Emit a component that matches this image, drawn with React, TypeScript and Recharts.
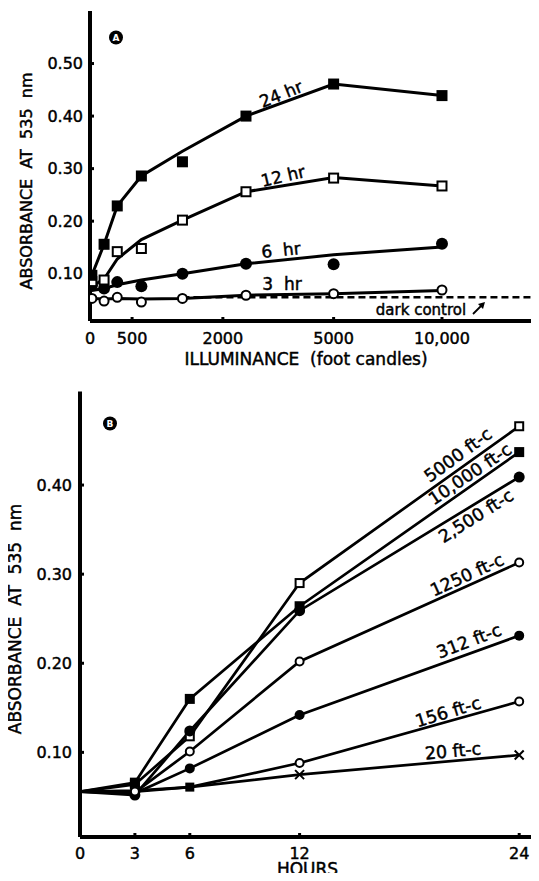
import React from 'react';
import { LineChart, Line, XAxis, YAxis, ReferenceLine } from 'recharts';

// ---------- panel A : absorbance vs illuminance ----------
const ILLUMINANCE = [20, 156, 312, 625, 1250, 2500, 5000, 10000];
const A_X_TICKS = [0, 500, 2000, 5000, 10000];
const A_Y_TICKS = [0.1, 0.2, 0.3, 0.4, 0.5];

// measured points
const HR24_PTS = [0.097, 0.156, 0.229, 0.286, 0.313, 0.4, 0.461, 0.439];
const HR12_PTS = [0.085, 0.088, 0.142, 0.148, 0.202, 0.256, 0.282, 0.267];
const HR6_PTS = [0.078, 0.072, 0.084, 0.076, 0.1, 0.119, 0.118, 0.157];
const HR3_PTS = [0.053, 0.048, 0.055, 0.046, 0.053, 0.059, 0.062, 0.069];

// hand drawn curves through the points
const HR24_CURVE = [0.097, 0.156, 0.229, 0.286, 0.333, 0.4, 0.461, 0.439];
const HR12_CURVE = [0.076, 0.09, 0.128, 0.165, 0.202, 0.256, 0.283, 0.267];
const HR6_CURVE = [0.068, 0.072, 0.079, 0.088, 0.1, 0.119, 0.136, 0.151];
const HR3_CURVE = [0.053, 0.052, 0.053, 0.052, 0.053, 0.059, 0.062, 0.068];

const DARK_CONTROL = 0.055;

// the original axis is logarithmic in (illuminance + 2200)
const LOG_OFFSET = 2200;
const A_X_MAX = 20000;

// ---------- panel B : absorbance vs time ----------
const HOURS = [0, 3, 6, 12, 24];
const B_X_TICKS = [0, 3, 6, 12, 24];
const B_Y_TICKS = [0.1, 0.2, 0.3, 0.4];

const FC5000 = [0.056, 0.064, 0.118, 0.29, 0.466];
const FC10000 = [0.056, 0.066, 0.16, 0.264, 0.437];
const FC2500 = [0.056, 0.052, 0.124, 0.259, 0.409];
const FC1250 = [0.056, 0.055, 0.101, 0.202, 0.313];
const FC312 = [0.056, 0.054, 0.082, 0.142, 0.231];
const FC156 = [0.056, 0.056, 0.061, 0.088, 0.157];
const FC20 = [0.056, 0.057, 0.061, 0.075, 0.097];

const aRows = ILLUMINANCE.map((v, i) => ({
  x: v + LOG_OFFSET,
  p24: HR24_PTS[i], p12: HR12_PTS[i], p6: HR6_PTS[i], p3: HR3_PTS[i],
  c24: HR24_CURVE[i], c12: HR12_CURVE[i], c6: HR6_CURVE[i], c3: HR3_CURVE[i],
}));

const bRows = HOURS.map((h, i) => ({
  h,
  fc5000: FC5000[i], fc10000: FC10000[i], fc2500: FC2500[i], fc1250: FC1250[i],
  fc312: FC312[i], fc156: FC156[i], fc20: FC20[i],
}));

const B_SERIES = [
  { key: 'fc5000', marks: ['none', 'osq', 'osq', 'osq', 'osq'], size: 10 },
  { key: 'fc10000', marks: ['none', 'sq', 'sq', 'sq', 'sq'], size: 10 },
  { key: 'fc2500', marks: ['none', 'dot', 'dot', 'dot', 'dot'], size: 11 },
  { key: 'fc1250', marks: ['none', 'odot', 'odot', 'odot', 'odot'], size: 10 },
  { key: 'fc312', marks: ['none', 'dot', 'dot', 'dot', 'dot'], size: 10 },
  { key: 'fc156', marks: ['none', 'odot', 'none', 'odot', 'odot'], size: 10 },
  { key: 'fc20', marks: ['none', 'none', 'sq', 'x', 'x'], size: 9 },
];

const FONT = '"DejaVu Sans", sans-serif';
const INK = '#000';

const drawMarker = (kind: string, cx: number, cy: number, s: number, key: string) => {
  const h = s / 2;
  switch (kind) {
    case 'sq':
      return <rect key={key} x={cx - h} y={cy - h} width={s} height={s} fill={INK} />;
    case 'osq':
      return <rect key={key} x={cx - h + 1} y={cy - h + 1} width={s - 2} height={s - 2} fill="#fff" stroke={INK} strokeWidth={2} />;
    case 'dot':
      return <circle key={key} cx={cx} cy={cy} r={h} fill={INK} />;
    case 'odot':
      return <circle key={key} cx={cx} cy={cy} r={h - 1} fill="#fff" stroke={INK} strokeWidth={2} />;
    case 'x':
      return (
        <path key={key} d={`M${cx - h},${cy - h}L${cx + h},${cy + h}M${cx - h},${cy + h}L${cx + h},${cy - h}`}
          stroke={INK} strokeWidth={2} />
      );
    default:
      return <g key={key} />;
  }
};

const markerDot = (kinds: string | string[], size: number) => (p: any) => {
  const kind = Array.isArray(kinds) ? kinds[p.index] : kinds;
  if (p.cx == null || p.cy == null) return <g key={`${p.dataKey}-${p.index}`} />;
  return drawMarker(kind, p.cx, p.cy, size, `${p.dataKey}-${p.index}`);
};

// plain "2000" / "5000", but "10,000" as printed
const fmtIllum = (v: number) => {
  const n = v - LOG_OFFSET;
  return n >= 10000 ? n.toLocaleString('en-US') : String(n);
};

const tickStyle = { fill: INK, fontSize: 16, fontFamily: FONT, stroke: INK, strokeWidth: 0.45 };
const axisLine = { stroke: INK, strokeWidth: 4 };
const tickLine = { stroke: INK, strokeWidth: 3 };

const Label = ({ x, y, a = 0, size = 17, children }: any) => (
  <text transform={`translate(${x},${y}) rotate(${a})`} textAnchor="middle" dominantBaseline="central"
    fontSize={size} fontFamily={FONT} fill={INK} stroke={INK} strokeWidth={0.45} style={{ whiteSpace: 'pre' }}>
    {children}
  </text>
);

const PanelBadge = ({ x, y, letter }: any) => (
  <g>
    <circle cx={x} cy={y} r={7} fill={INK} />
    <text x={x} y={y} textAnchor="middle" dominantBaseline="central" fontSize={9} fontWeight="bold"
      fontFamily={FONT} fill="#fff">{letter}</text>
  </g>
);

const App = () => {
  return (
    <div style={{ position: 'relative', width: 539, height: 881, margin: -8, overflow: 'hidden', background: '#fff' }}>
      <div style={{ position: 'absolute', left: 0, top: 0 }}>
        <LineChart width={600} height={370} data={aRows} margin={{ top: 11, right: 35, left: 0, bottom: 0 }}>
          <XAxis xAxisId="top" orientation="top" dataKey="x" type="number" scale="log"
            domain={[LOG_OFFSET, A_X_MAX + LOG_OFFSET]} height={0} tick={false} tickLine={false} axisLine={axisLine} />
          <XAxis dataKey="x" type="number" scale="log" domain={[LOG_OFFSET, A_X_MAX + LOG_OFFSET]}
            ticks={A_X_TICKS.map((t) => t + LOG_OFFSET)} tickFormatter={fmtIllum}
            height={49} tickSize={-4} tickMargin={16} tick={tickStyle} tickLine={tickLine} axisLine={axisLine}
            interval={0} allowDataOverflow />
          <YAxis type="number" domain={[0.01, 0.6]} ticks={A_Y_TICKS} tickFormatter={(v: number) => v.toFixed(2)}
            width={90} tickSize={-4} tickMargin={11} tick={tickStyle} tickLine={tickLine} axisLine={axisLine}
            interval={0} allowDataOverflow />
          <ReferenceLine segment={[{ x: 1250 + LOG_OFFSET, y: DARK_CONTROL }, { x: A_X_MAX + LOG_OFFSET, y: DARK_CONTROL }]}
            stroke={INK} strokeWidth={2.5} strokeDasharray="7 4" />
          <Line dataKey="c24" type="linear" stroke={INK} strokeWidth={3} dot={false} activeDot={false} isAnimationActive={false} />
          <Line dataKey="c12" type="linear" stroke={INK} strokeWidth={3} dot={false} activeDot={false} isAnimationActive={false} />
          <Line dataKey="c6" type="linear" stroke={INK} strokeWidth={3} dot={false} activeDot={false} isAnimationActive={false} />
          <Line dataKey="c3" type="linear" stroke={INK} strokeWidth={3} dot={false} activeDot={false} isAnimationActive={false} />
          <Line dataKey="p3" stroke="none" dot={markerDot('odot', 11)} activeDot={false} isAnimationActive={false} />
          <Line dataKey="p6" stroke="none" dot={markerDot('dot', 12)} activeDot={false} isAnimationActive={false} />
          <Line dataKey="p12" stroke="none" dot={markerDot('osq', 11)} activeDot={false} isAnimationActive={false} />
          <Line dataKey="p24" stroke="none" dot={markerDot('sq', 11)} activeDot={false} isAnimationActive={false} />
        </LineChart>
      </div>

      <div style={{ position: 'absolute', left: 0, top: 380 }}>
        <LineChart width={545} height={501} data={bRows} margin={{ top: 11.5, right: 7.5, left: 0, bottom: 0 }}>
          <XAxis xAxisId="top" orientation="top" dataKey="h" type="number" domain={[0, 25]}
            height={0} tick={false} tickLine={false} axisLine={axisLine} />
          <XAxis dataKey="h" type="number" domain={[0, 25]} ticks={B_X_TICKS} height={44} tickSize={-4} tickMargin={15}
            tick={tickStyle} tickLine={tickLine} axisLine={axisLine} interval={0} allowDataOverflow />
          <YAxis type="number" domain={[0.005, 0.505]} ticks={B_Y_TICKS} tickFormatter={(v: number) => v.toFixed(2)}
            width={80} tickSize={-4} tickMargin={12} tick={tickStyle} tickLine={tickLine} axisLine={axisLine}
            interval={0} allowDataOverflow />
          {B_SERIES.map((s) => (
            <Line key={s.key} dataKey={s.key} type="linear" stroke={INK} strokeWidth={2.7}
              dot={markerDot(s.marks, s.size)} activeDot={false} isAnimationActive={false} />
          ))}
        </LineChart>
      </div>

      <svg width={539} height={881} style={{ position: 'absolute', left: 0, top: 0, pointerEvents: 'none' }}>
        {/* panel A */}
        <PanelBadge x={116} y={37.5} letter="A" />
        <Label x={26} y={181} a={-90} size={16}>ABSORBANCE  AT  535  nm</Label>
        <Label x={306} y={359} size={17}>ILLUMINANCE  (foot candles)</Label>
        <Label x={281} y={94} a={-22}>24 hr</Label>
        <Label x={283} y={176} a={-13}>12 hr</Label>
        <Label x={281} y={250} a={-6}>6  hr</Label>
        <Label x={282} y={284}>3  hr</Label>
        <Label x={421} y={310} size={15}>dark control</Label>
        <path d="M473,314 L483,304" stroke={INK} strokeWidth={1.8} />
        <path d="M485,302 L478,304 L483,309 Z" fill={INK} />

        {/* panel B */}
        <PanelBadge x={110} y={423.5} letter="B" />
        <Label x={15} y={619} a={-90} size={17}>ABSORBANCE  AT  535  nm</Label>
        <Label x={307.5} y={869} size={17}>HOURS</Label>
        <Label x={458} y={455} a={-36} size={17.5}>5000 ft-c</Label>
        <Label x={470} y={474} a={-34} size={17.5}>10,000 ft-c</Label>
        <Label x={476} y={516} a={-32} size={17.5}>2,500 ft-c</Label>
        <Label x={467} y={575} a={-24.5} size={17.5}>1250 ft-c</Label>
        <Label x={469} y={641} a={-21} size={17.5}>312 ft-c</Label>
        <Label x={448} y={712} a={-17} size={17.5}>156 ft-c</Label>
        <Label x={453} y={751} a={-5} size={17.5}>20 ft-c</Label>
      </svg>
    </div>
  );
};

export default App;
